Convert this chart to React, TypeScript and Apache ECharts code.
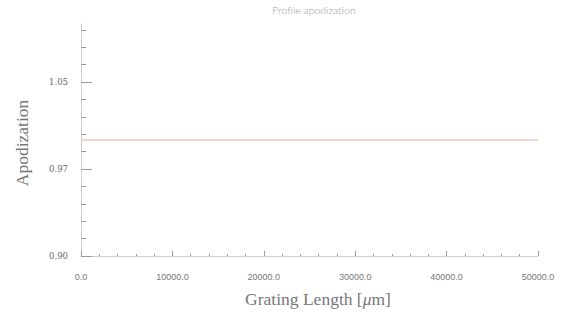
import React, { useEffect, useRef } from "react";
import * as echarts from "echarts";

const titleText = "Profile apodization";
const xName = "Grating Length [";
const yName = "Apodization";
const lengths = [0, 50000];
const apodization = [1.0, 1.0];
const yMajorTicks = [0.9, 0.975, 1.05];
const yMinorTicks = [0.915, 0.93, 0.945, 0.96, 0.99, 1.005, 1.02, 1.035, 1.065, 1.08, 1.095];

export default function App() {
  const ref = useRef<HTMLDivElement>(null);
  useEffect(() => {
    if (!ref.current) return;
    const chart = echarts.init(ref.current, null, { renderer: "svg" });
    const axisLineColor = "#d0d0d0";
    const tickColor = "#9a9a9a";
    chart.setOption({
      animation: false,
      backgroundColor: "#ffffff",
      title: {
        text: titleText,
        left: 309,
        textAlign: "center",
        top: 0,
        padding: [4, 5],
        textStyle: { fontFamily: "Lato", fontWeight: 300, fontSize: 10.5, color: "#999" },
      },
      grid: { left: 81, right: 29, top: 24, bottom: 62 },
      xAxis: {
        type: "value",
        min: 0,
        max: 50000,
        interval: 10000,
        axisLine: { show: true, lineStyle: { color: axisLineColor, width: 1 } },
        axisTick: { show: true, inside: true, length: 5, lineStyle: { color: tickColor } },
        minorTick: { show: true, splitNumber: 5, length: 2, lineStyle: { color: tickColor } },
        splitLine: { show: false },
        axisLabel: {
          margin: 16,
          fontFamily: "Liberation Sans",
          fontSize: 9,
          color: "#777",
          formatter: (v: number) => v.toFixed(1),
        },
      },
      yAxis: [
        {
          type: "value",
          min: 0.9,
          max: 1.1,
          axisLine: { show: true, lineStyle: { color: axisLineColor, width: 1 } },
          axisTick: { show: true, inside: true, length: 11, customValues: yMajorTicks, lineStyle: { color: tickColor } },
          splitLine: { show: false },
          axisLabel: {
            customValues: yMajorTicks,
            margin: 13,
            fontFamily: "DejaVu Serif",
            fontSize: 8.5,
            color: "#666",
            formatter: (v: number) => (Math.floor(v * 100 + 1e-6) / 100).toFixed(2),
          },
        },
        {
          type: "value",
          min: 0.9,
          max: 1.1,
          position: "left",
          axisLine: { show: false },
          axisTick: { show: true, inside: true, length: 5, customValues: yMinorTicks, lineStyle: { color: tickColor } },
          axisLabel: { show: false },
          splitLine: { show: false },
        },
      ],
      graphic: [
        {
          type: "text",
          x: 22,
          y: 143,
          rotation: Math.PI / 2,
          style: {
            text: yName,
            fontFamily: "Liberation Serif",
            fontSize: 17.5,
            fill: "#777",
            align: "center",
            verticalAlign: "middle",
          },
        },
        {
          type: "text",
          x: 318,
          y: 299,
          style: {
            text: "{a|" + xName + "}{i|μ}{a|m]}",
            align: "center",
            verticalAlign: "middle",
            rich: {
              a: { fontFamily: "Liberation Serif", fontSize: 17.5, fill: "#777", color: "#777" },
              i: { fontFamily: "Liberation Serif", fontStyle: "italic", fontSize: 17.5, fill: "#777", color: "#777" },
            },
          },
        },
      ],
      series: [
        {
          type: "line",
          data: lengths.map((x, i) => [x, apodization[i]]),
          showSymbol: false,
          lineStyle: { color: "#f3c4c4", width: 1.5 },
        },
      ],
    });
    return () => chart.dispose();
  }, []);
  return <div ref={ref} style={{ width: 567, height: 318, position: "absolute", left: 0, top: 0 }} />;
}
